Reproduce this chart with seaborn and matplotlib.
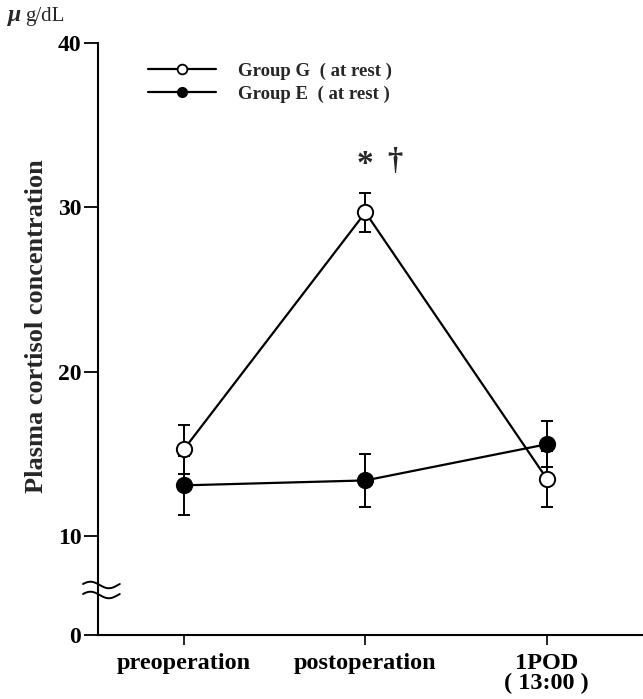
import numpy as np
import pandas as pd
import matplotlib
matplotlib.use("Agg")
import matplotlib.pyplot as plt
from matplotlib.lines import Line2D
import seaborn as sns

categories = ["preoperation", "postoperation", "1POD\n( 13:00 )"]
group_g_mean = [15.3, 29.7, 13.5]
group_g_err = [1.5, 1.2, 1.7]
group_e_mean = [13.1, 13.4, 15.6]
group_e_err = [1.8, 1.6, 1.4]
y_ticks = [0, 10, 20, 30, 40]
legend_labels = ["Group G  ( at rest )", "Group E  ( at rest )"]

sns.set_theme(style="ticks")
plt.rcParams["font.family"] = ["Liberation Serif", "DejaVu Serif"]
plt.rcParams["font.weight"] = "bold"

fig = plt.figure(figsize=(6.43, 6.99), dpi=100)
ax = fig.add_axes([98 / 643, 1 - 635 / 699, 1 - 98 / 643, (635 - 43) / 699])

def fwd(v):
    v = np.asarray(v, dtype=float)
    return np.where(v >= 10, v, 10 - (10 - v) * 0.6)

def inv(u):
    u = np.asarray(u, dtype=float)
    return np.where(u >= 10, u, 10 - (10 - u) / 0.6)

ax.set_yscale("function", functions=(fwd, inv))

x = np.arange(len(categories))
df_g = pd.DataFrame({"x": x, "y": group_g_mean})
df_e = pd.DataFrame({"x": x, "y": group_e_mean})

ax.errorbar(x, group_g_mean, yerr=group_g_err, fmt="none", ecolor="black",
            elinewidth=1.4, capsize=4.5, capthick=1.4, zorder=2)
ax.errorbar(x, group_e_mean, yerr=group_e_err, fmt="none", ecolor="black",
            elinewidth=1.4, capsize=4.5, capthick=1.4, zorder=2)

sns.lineplot(data=df_e, x="x", y="y", ax=ax, color="black", linewidth=1.6,
             marker="o", markersize=11, markerfacecolor="black",
             markeredgecolor="black", markeredgewidth=1.4, zorder=3)
sns.lineplot(data=df_g, x="x", y="y", ax=ax, color="black", linewidth=1.6,
             marker="o", markersize=11, markerfacecolor="white",
             markeredgecolor="black", markeredgewidth=1.4, zorder=4)

ax.set_xlim(-0.474, 2.53)
ax.set_ylim(0, 40)
ax.set_yticks(y_ticks)
ax.set_yticklabels([str(t) for t in y_ticks], fontsize=17, fontweight="bold")
ax.set_xticks(x)
ax.set_xticklabels(categories, fontsize=17.5, fontweight="bold", linespacing=0.92)
ax.tick_params(axis="y", direction="out", length=10, width=1.3, pad=2, colors="black")
ax.tick_params(axis="x", direction="out", length=7, width=1.2, pad=6, colors="black")
ax.minorticks_off()
ax.set_xlabel("")
ax.set_ylabel("Plasma cortisol concentration", fontsize=19, fontweight="bold")
ax.yaxis.set_label_coords(-0.092, 0.522)
for s in ["top", "right"]:
    ax.spines[s].set_visible(False)
for s in ["left", "bottom"]:
    ax.spines[s].set_linewidth(1.5)
    ax.spines[s].set_color("black")

# significance marks
ax.annotate("*", xy=(1, 32.8), xytext=(0, -2), textcoords="offset points",
            ha="center", va="center", fontsize=24, fontweight="bold")
ax.annotate("\u2020", xy=(1, 32.8), xytext=(21, 0), textcoords="offset points",
            ha="center", va="center", fontsize=22, fontweight="bold")

# axis break marks
t = np.linspace(0, 1, 60)
bx = -0.0275 + t * (0.0675)
for yc in (0.0845, 0.0676):
    by = yc + 0.0055 * np.sin(2 * np.pi * t + 0.3)
    ax.plot(bx, by, transform=ax.transAxes, color="black", lw=1.4, clip_on=False)

handles = [
    Line2D([], [], color="black", lw=1.6, marker="o", markersize=7,
           markerfacecolor="white", markeredgecolor="black", markeredgewidth=1.3),
    Line2D([], [], color="black", lw=1.6, marker="o", markersize=7,
           markerfacecolor="black", markeredgecolor="black"),
]
leg = ax.legend(handles, legend_labels, loc="upper left",
                bbox_to_anchor=(139 / 643, 1 - 53 / 699), bbox_transform=fig.transFigure,
                frameon=False, handlelength=3.6, handletextpad=1.2,
                labelspacing=0.3, borderpad=0, prop={"weight": "bold", "size": 13.5})

fig.text(8 / 643, 1 - 16 / 699, "\u03bc", fontsize=17, fontweight="bold",
         fontstyle="italic", va="center", ha="left")
fig.text(25 / 643, 1 - 16 / 699, "g/dL", fontsize=15, fontweight="normal",
         va="center", ha="left")

fig.savefig("out.png", dpi=100)
